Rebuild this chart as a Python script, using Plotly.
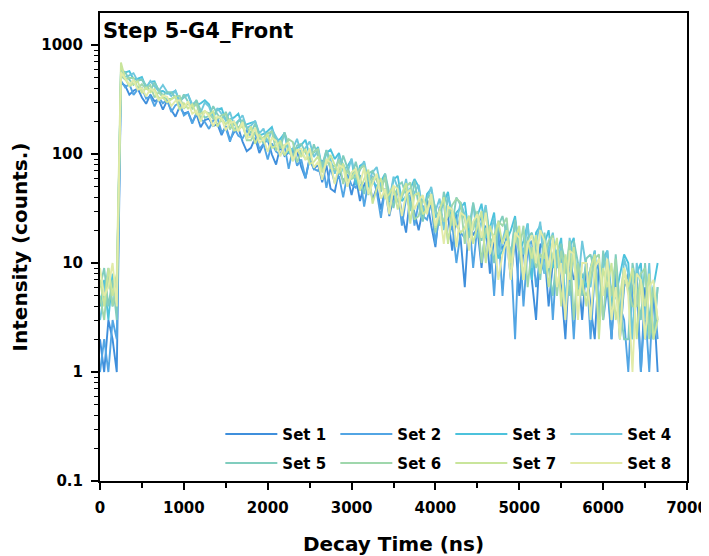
import plotly.graph_objects as go

TIME_NS = [0, 50, 100, 150, 200, 250, 300, 350, 400, 450, 500, 550, 600, 650, 700, 750,
           800, 850, 900, 950, 1000, 1050, 1100, 1150, 1200, 1250, 1300, 1350, 1400, 1450,
           1500, 1550, 1600, 1650, 1700, 1750, 1800, 1850, 1900, 1950, 2000, 2050, 2100,
           2150, 2200, 2250, 2300, 2350, 2400, 2450, 2500, 2550, 2600, 2650, 2700, 2750,
           2800, 2850, 2900, 2950, 3000, 3050, 3100, 3150, 3200, 3250, 3300, 3350, 3400,
           3450, 3500, 3550, 3600, 3650, 3700, 3750, 3800, 3850, 3900, 3950, 4000, 4050,
           4100, 4150, 4200, 4250, 4300, 4350, 4400, 4450, 4500, 4550, 4600, 4650, 4700,
           4750, 4800, 4850, 4900, 4950, 5000, 5050, 5100, 5150, 5200, 5250, 5300, 5350,
           5400, 5450, 5500, 5550, 5600, 5650, 5700, 5750, 5800, 5850, 5900, 5950, 6000,
           6050, 6100, 6150, 6200, 6250, 6300, 6350, 6400, 6450, 6500, 6550, 6600, 6650]

SET_1 = [2, 1, 3, 2, 1, 450,
         425, 351, 381, 398, 330, 289, 351, 305, 315, 256,
         309, 253, 220, 272, 235, 243, 195, 233, 176, 205,
         211, 181, 188, 149, 181, 135, 159, 173, 130, 106,
         114, 141, 102, 123, 136, 99, 80, 118, 96, 103,
         96, 106, 76, 60, 92, 73, 80, 55, 79, 48,
         45, 72, 57, 63, 42, 62, 37, 52, 61, 38,
         49, 31, 48, 27, 40, 48, 29, 19, 42, 29,
         20, 31, 38, 22, 14, 33, 22, 27, 13, 28,
         17, 6, 25, 18, 21, 9, 22, 8, 17, 23,
         13, 17, 7, 17, 5, 13, 16, 7, 3, 15,
         13, 4, 10, 13, 6, 2, 11, 7, 9, 3,
         10, 4, 2, 10, 5, 8, 2, 8, 2, 6,
         8, 4, 6, 1, 6, 3, 5, 1]

SET_2 = [1, 2, 1, 3, 2, 470,
         409, 439, 349, 392, 405, 322, 339, 274, 332, 292,
         316, 243, 281, 293, 226, 242, 190, 239, 207, 197,
         170, 203, 214, 159, 173, 130, 172, 147, 139, 164,
         146, 156, 111, 124, 89, 125, 105, 99, 120, 73,
         113, 78, 89, 60, 90, 73, 70, 88, 49, 75,
         54, 63, 40, 65, 52, 49, 64, 33, 55, 63,
         45, 26, 48, 37, 34, 48, 22, 39, 47, 22,
         36, 27, 25, 36, 15, 30, 36, 16, 23, 10,
         19, 17, 27, 9, 22, 27, 11, 17, 5, 20,
         5, 18, 12, 2, 18, 4, 14, 16, 6, 11,
         8, 14, 3, 12, 13, 4, 9, 2, 10, 6,
         10, 2, 8, 10, 3, 6, 2, 8, 4, 3,
         1, 6, 8, 1, 4, 1, 6, 2]

SET_3 = [4, 7, 3, 8, 5, 600,
         561, 577, 485, 491, 509, 408, 460, 466, 376, 379,
         358, 364, 380, 299, 344, 349, 276, 281, 292, 311,
         286, 219, 256, 263, 203, 208, 217, 235, 177, 187,
         193, 199, 148, 153, 163, 177, 130, 138, 155, 101,
         110, 113, 121, 135, 96, 103, 116, 73, 102, 110,
         90, 102, 71, 77, 89, 52, 78, 83, 50, 55,
         51, 56, 66, 37, 58, 63, 37, 41, 48, 59,
         50, 26, 43, 48, 26, 30, 36, 45, 24, 29,
         32, 36, 18, 22, 27, 35, 17, 21, 29, 11,
         13, 16, 20, 27, 12, 16, 23, 7, 19, 22,
         15, 20, 9, 12, 17, 4, 14, 17, 5, 8,
         6, 9, 13, 3, 11, 13, 4, 5, 8, 12,
         10, 2, 8, 10, 2, 3, 6, 10]

SET_4 = [3, 5, 9, 4, 6, 570,
         508, 526, 552, 467, 487, 404, 469, 417, 379, 430,
         373, 340, 381, 308, 327, 352, 285, 306, 240, 297,
         272, 217, 264, 230, 206, 243, 184, 202, 227, 173,
         182, 202, 155, 171, 128, 168, 142, 123, 158, 109,
         112, 138, 99, 113, 130, 94, 108, 74, 108, 88,
         66, 96, 79, 67, 91, 58, 71, 86, 56, 68,
         76, 50, 61, 37, 62, 49, 39, 59, 33, 44,
         52, 30, 39, 50, 30, 39, 20, 41, 30, 23,
         36, 27, 21, 35, 17, 24, 34, 17, 26, 12,
         16, 23, 10, 24, 17, 12, 23, 9, 15, 24,
         8, 14, 19, 9, 15, 4, 17, 10, 6, 16,
         9, 6, 13, 4, 9, 13, 5, 10, 3, 11,
         8, 2, 10, 6, 3, 10, 2, 6]

SET_5 = [6, 9, 4, 7, 3, 545,
         564, 481, 432, 478, 478, 428, 382, 453, 389, 346,
         369, 370, 330, 292, 353, 300, 266, 313, 251, 215,
         224, 275, 231, 203, 244, 193, 164, 200, 204, 175,
         156, 190, 148, 125, 155, 159, 135, 112, 158, 124,
         95, 120, 124, 104, 85, 123, 95, 79, 109, 76,
         79, 65, 97, 75, 60, 85, 59, 43, 66, 70,
         58, 45, 66, 44, 32, 51, 55, 42, 30, 57,
         34, 24, 39, 43, 32, 22, 45, 31, 22, 40,
         34, 25, 17, 36, 23, 16, 31, 17, 10, 22,
         27, 18, 12, 25, 12, 7, 17, 19, 13, 7,
         19, 9, 5, 13, 15, 10, 5, 16, 10, 5,
         11, 12, 8, 3, 13, 7, 3, 12, 4, 2,
         2, 10, 6, 3, 10, 3, 2, 6]

SET_6 = [5, 3, 8, 4, 6, 520,
         484, 498, 501, 401, 437, 395, 429, 330, 369, 331,
         321, 321, 336, 342, 260, 293, 261, 291, 212, 245,
         236, 211, 212, 227, 234, 168, 197, 172, 199, 134,
         134, 158, 138, 142, 155, 161, 107, 132, 113, 137,
         129, 84, 105, 90, 93, 105, 111, 68, 90, 74,
         72, 89, 53, 71, 59, 62, 73, 79, 42, 61,
         58, 47, 61, 31, 47, 37, 41, 50, 55, 25,
         27, 39, 31, 43, 19, 31, 24, 27, 34, 39,
         36, 15, 27, 20, 30, 10, 21, 15, 18, 24,
         22, 26, 9, 18, 13, 22, 6, 14, 9, 12,
         11, 16, 18, 5, 13, 8, 16, 3, 10, 6,
         5, 7, 11, 12, 3, 9, 5, 11, 2, 7,
         6, 4, 4, 8, 9, 2, 6, 3]

SET_7 = [7, 4, 9, 5, 8, 690,
         490, 420, 442, 465, 362, 407, 367, 395, 326, 329,
         298, 317, 337, 254, 293, 261, 286, 231, 234, 248,
         228, 246, 178, 212, 187, 209, 164, 168, 181, 139,
         180, 124, 152, 133, 152, 114, 119, 130, 97, 114,
         86, 111, 94, 111, 81, 85, 95, 68, 82, 98,
         79, 67, 82, 57, 61, 70, 46, 59, 72, 35,
         48, 60, 39, 43, 51, 31, 43, 54, 23, 42,
         44, 28, 31, 37, 21, 31, 40, 15, 30, 22,
         19, 21, 27, 15, 22, 30, 10, 22, 16, 24,
         15, 20, 10, 16, 22, 7, 16, 11, 18, 8,
         15, 6, 12, 17, 4, 12, 7, 14, 5, 7,
         4, 9, 12, 2, 9, 6, 10, 3, 5, 9,
         6, 9, 2, 7, 4, 8, 2, 3]

SET_8 = [9, 5, 6, 10, 4, 560,
         495, 434, 477, 389, 404, 338, 397, 377, 307, 346,
         336, 276, 308, 311, 266, 304, 234, 250, 198, 250,
         223, 179, 222, 211, 165, 193, 198, 161, 196, 140,
         145, 174, 126, 138, 105, 141, 132, 95, 121, 127,
         87, 108, 112, 88, 113, 75, 85, 58, 89, 84,
         53, 79, 75, 50, 68, 73, 53, 75, 43, 53,
         66, 39, 48, 28, 51, 48, 27, 43, 47, 31,
         38, 42, 28, 43, 22, 30, 15, 33, 31, 14,
         29, 27, 13, 24, 28, 17, 29, 12, 18, 7,
         12, 16, 7, 19, 17, 7, 15, 18, 10, 20,
         16, 9, 17, 6, 10, 3, 13, 12, 3, 10,
         10, 3, 9, 11, 5, 11, 3, 6, 2, 9,
         5, 1, 8, 7, 2, 6, 7, 3]

SERIES_NAMES = ["Set 1", "Set 2", "Set 3", "Set 4", "Set 5", "Set 6", "Set 7", "Set 8"]
SERIES_VALUES = [SET_1, SET_2, SET_3, SET_4, SET_5, SET_6, SET_7, SET_8]
SERIES_COLORS = ["#3f8fdc", "#52a5e4", "#4cc2dc", "#6fc8dd",
                 "#80cdbe", "#9fd7ac", "#c9e59b", "#e2eba8"]

X_TICKS = [0, 1000, 2000, 3000, 4000, 5000, 6000, 7000]
Y_TICKS = [0.1, 1, 10, 100, 1000]
Y_TICK_LABELS = ["0.1", "1", "10", "100", "1000"]

FONT = "DejaVu Sans"

fig = go.Figure()
for i, (name, vals, col) in enumerate(zip(SERIES_NAMES, SERIES_VALUES, SERIES_COLORS)):
    fig.add_trace(go.Scatter(
        x=TIME_NS, y=vals, mode="lines", name=name,
        line=dict(color=col, width=1.9),
        legend="legend" if i < 4 else "legend2",
    ))

y_minor = [m * 10.0 ** e for e in range(-1, 4) for m in range(2, 10)]

legend_common = dict(
    orientation="h", xanchor="left", yanchor="middle",
    font=dict(family=FONT, size=15, color="black", weight="bold"),
    bgcolor="rgba(0,0,0,0)", itemwidth=52, entrywidth=48,
    entrywidthmode="pixels", tracegroupgap=0, itemclick=False,
)

# the page body adds an 8 px offset; margins are set so the plot lands where the reference has it
fig.update_layout(
    width=709, height=556,
    margin=dict(l=92, r=30, t=5, b=83, autoexpand=False),
    paper_bgcolor="white", plot_bgcolor="white",
    font=dict(family=FONT, color="black"),
    showlegend=True,
    legend=dict(x=0.205, y=0.100, **legend_common),
    legend2=dict(x=0.205, y=0.038, **legend_common),
    xaxis=dict(
        range=[0, 7000], tickvals=X_TICKS, automargin=False,
        ticks="outside", ticklen=7, tickwidth=1.5, tickcolor="black",
        ticklabelstandoff=5,
        minor=dict(dtick=500, ticks="outside", ticklen=5, tickwidth=1.5, tickcolor="black"),
        showline=True, linecolor="black", linewidth=2, mirror=True,
        showgrid=False, zeroline=False,
        tickfont=dict(family=FONT, size=15, color="black", weight="bold"),
        title=dict(text="Decay Time (ns)", standoff=21,
                   font=dict(family=FONT, size=20, color="black", weight="bold")),
    ),
    yaxis=dict(
        type="log", range=[-1, 3.294], automargin=False,
        tickvals=Y_TICKS, ticktext=Y_TICK_LABELS,
        ticks="outside", ticklen=7, tickwidth=1.5, tickcolor="black",
        ticklabelstandoff=5,
        minor=dict(tickvals=y_minor, ticks="outside", ticklen=4, tickwidth=1.2, tickcolor="black"),
        showline=True, linecolor="black", linewidth=2, mirror=True,
        showgrid=False, zeroline=False,
        tickfont=dict(family=FONT, size=15, color="black", weight="bold"),
        title=dict(text="Intensity (counts.)", standoff=8,
                   font=dict(family=FONT, size=20, color="black", weight="bold")),
    ),
    annotations=[dict(
        text="Step 5-G4_Front", xref="paper", yref="paper", x=0.0, y=1.0,
        xanchor="left", yanchor="top", xshift=1, yshift=-4, showarrow=False,
        font=dict(family=FONT, size=21, color="black", weight="bold"),
    )],
)

fig.write_html("out.html")
